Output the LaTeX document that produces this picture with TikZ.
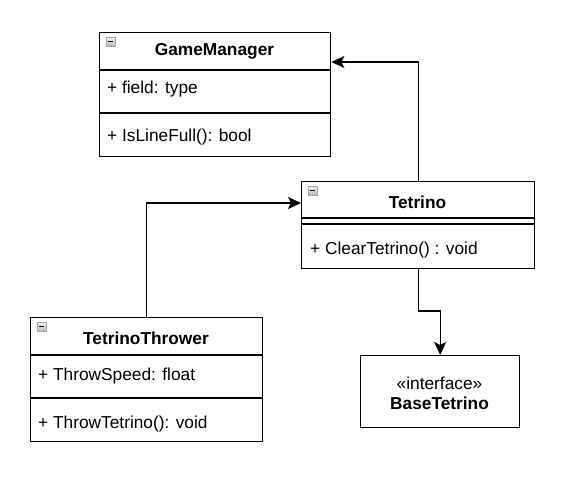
\documentclass[tikz,border=0pt]{standalone}
\usepackage{fontspec}
\setmainfont{Liberation Sans}
\usetikzlibrary{arrows.meta,calc}
\begin{document}
\begin{tikzpicture}[x=1pt,y=-1pt,
  umlbox/.style={draw=black,line width=1.4pt,inner sep=0pt,anchor=north west,rectangle},
  sepline/.style={draw=black,line width=1.4pt},
  conn/.style={draw=black,line width=1.4pt,-{Stealth[length=13pt,width=12pt,inset=3pt]}},
  hdr/.style={font=\fontsize{17.3}{20}\selectfont\bfseries,inner sep=0pt},
  mem/.style={font=\fontsize{17.3}{20}\selectfont,inner sep=0pt,anchor=west},
  ster/.style={font=\fontsize{17.3}{20}\selectfont,inner sep=0pt}]
\useasboundingbox (0,0) rectangle (563,477);
\newcommand{\minusicon}[1]{%
  \shade[top color=gray!10,bottom color=gray!55,draw=gray!70,line width=0.7pt]
    ($(#1)+(7,5)$) rectangle ++(9,9);
  \draw[black,line width=1.5pt] ($(#1)+(9,9.5)$) -- ++(5,0);}

% GameManager
\node[umlbox,minimum width=231pt,minimum height=124pt] (gm) at (99,32) {};
\draw[sepline] ($(gm.north west)+(0,38)$) -- ++(231,0);
\draw[sepline] ($(gm.north west)+(0,81)$) -- ++(231,0);
\minusicon{gm.north west}
\node[hdr] (gmt) at (214.5,51) {GameManager};
\node[mem] (gmf) at (107,89) {+ field: type};
\node[mem] (gmm) at (107,137) {+ IsLineFull(): bool};

% Tetrino
\node[umlbox,minimum width=233pt,minimum height=87pt] (tet) at (301,181) {};
\draw[sepline] ($(tet.north west)+(0,37)$) -- ++(233,0);
\draw[sepline] ($(tet.north west)+(0,43)$) -- ++(233,0);
\minusicon{tet.north west}
\node[hdr] (tett) at (417.5,202) {Tetrino};
\node[mem] (tetm) at (310,250) {+ ClearTetrino() : void};

% TetrinoThrower
\node[umlbox,minimum width=232pt,minimum height=124pt] (tt) at (30,317) {};
\draw[sepline] ($(tt.north west)+(0,38)$) -- ++(232,0);
\draw[sepline] ($(tt.north west)+(0,81)$) -- ++(232,0);
\minusicon{tt.north west}
\node[hdr] (ttt) at (146,338) {TetrinoThrower};
\node[mem] (ttf) at (38,376) {+ ThrowSpeed: float};
\node[mem] (ttm) at (38,424) {+ ThrowTetrino(): void};

% BaseTetrino
\node[umlbox,minimum width=159pt,minimum height=72pt] (bt) at (360,355) {};
\node[ster] (bts) at (439.5,383) {«interface»};
\node[hdr] (btn) at (439.5,403) {BaseTetrino};

% connectors
\coordinate (gmin) at ($(gm.north east)+(0,30)$);
\coordinate (tin) at ($(tet.north west)+(0,22)$);
\coordinate (mid) at (0,311);
\draw[conn] (tet.north) |- (gmin);
\draw[conn] (tt.north) |- (tin);
\draw[conn] (tet.south) -- (tet.south |- mid) -- (bt.north |- mid) -- (bt.north);
\end{tikzpicture}
\end{document}
